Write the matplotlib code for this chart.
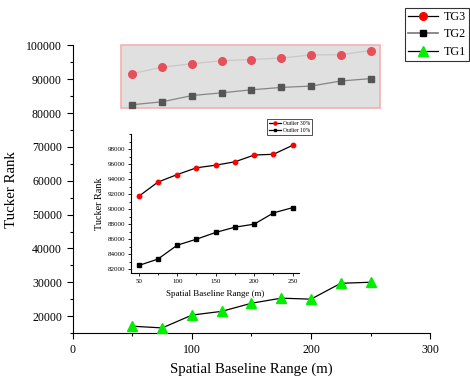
import matplotlib
matplotlib.use("Agg")
import matplotlib.pyplot as plt
from matplotlib.lines import Line2D
from matplotlib.patches import Rectangle
from matplotlib.ticker import MultipleLocator

plt.rcParams['font.family'] = ['Liberation Serif', 'DejaVu Serif']

x = [50, 75, 100, 125, 150, 175, 200, 225, 250]
tg3 = [91700, 93600, 94600, 95500, 95850, 96300, 97200, 97300, 98500]
tg2 = [82500, 83350, 85200, 86000, 86900, 87600, 88000, 89500, 90200]
tg1 = [17000, 16500, 20300, 21400, 23800, 25300, 25000, 29700, 30000]

main_xlim = (0, 300)
main_ylim = (15000, 100000)
zoom_xlim = (40, 258)
zoom_ylim = (81500, 100000)

fig = plt.figure(figsize=(4.7, 3.8), dpi=100)
ax = fig.add_axes([0.1553, 0.1237, 0.7596, 0.7566])
ax.set_xlim(*main_xlim)
ax.set_ylim(*main_ylim)
for s in ['top', 'right']:
    ax.spines[s].set_visible(False)
ax.xaxis.set_major_locator(MultipleLocator(100))
ax.xaxis.set_minor_locator(MultipleLocator(50))
ax.yaxis.set_minor_locator(MultipleLocator(5000))
ax.set_yticks([20000, 30000, 40000, 50000, 60000, 70000, 80000, 90000, 100000])
ax.tick_params(which='both', direction='out', labelsize=8.5, width=0.8)
ax.tick_params(which='major', length=4.5)
ax.tick_params(which='minor', length=2.5)
ax.set_xlabel('Spatial Baseline Range (m)', fontsize=10.7, labelpad=4.5)
ax.set_ylabel('Tucker Rank', fontsize=10.7, labelpad=6)

# zoom region box
ax.add_patch(Rectangle((zoom_xlim[0], zoom_ylim[0]), zoom_xlim[1] - zoom_xlim[0],
                       zoom_ylim[1] - zoom_ylim[0], facecolor='#e0e0e0',
                       edgecolor='#f5b0b0', linewidth=1.2, zorder=1, clip_on=False))
ax.plot(x, tg3, color='#c8c8c8', lw=0.9, marker='o', ms=5.5, mfc='#e5505a',
        mec='#e5505a', zorder=3, clip_on=False)
ax.plot(x, tg2, color='#858585', lw=0.9, marker='s', ms=5, mfc='#555555',
        mec='#555555', zorder=3, clip_on=False)
ax.plot(x, tg1, color='black', lw=0.9, marker='^', ms=7, mfc='#00ee00',
        mec='#00ee00', zorder=3, clip_on=False)

handles = [
    Line2D([], [], color='black', lw=0.9, marker='o', ms=5.5, mfc='red', mec='red'),
    Line2D([], [], color='#777777', lw=1.2, marker='s', ms=5, mfc='black', mec='black'),
    Line2D([], [], color='black', lw=0.9, marker='^', ms=6.5, mfc='#00ee00', mec='#00ee00'),
]
leg0 = fig.legend(handles, ['TG3', 'TG2', 'TG1'], loc='upper left',
                  bbox_to_anchor=(0.861, 0.979), fontsize=8.7, frameon=True, fancybox=False,
                  edgecolor='black', handlelength=2.5, borderpad=0.25, labelspacing=0.45,
                  handletextpad=0.5, borderaxespad=0)
leg0.get_frame().set_linewidth(0.8)

# inset
ins = fig.add_axes([0.2787, 0.2816, 0.3573, 0.3658])
ins.set_xlim(*zoom_xlim)
ins.set_ylim(*zoom_ylim)
for s in ['top', 'right']:
    ins.spines[s].set_visible(False)
ins.xaxis.set_major_locator(MultipleLocator(50))
ins.xaxis.set_minor_locator(MultipleLocator(25))
ins.set_yticks(list(range(82000, 100000, 2000)))
ins.yaxis.set_minor_locator(MultipleLocator(1000))
ins.tick_params(which='both', direction='out', labelsize=5, width=0.6, pad=1.5)
ins.tick_params(which='major', length=2.5)
ins.tick_params(which='minor', length=1.5)
ins.set_xlabel('Spatial Baseline Range (m)', fontsize=6.5, labelpad=5)
ins.set_ylabel('Tucker Rank', fontsize=7.3, labelpad=3)
ins.plot(x, tg3, color='black', lw=0.9, marker='o', ms=3.2, mfc='red', mec='red',
         label='Outlier 30%', clip_on=False)
ins.plot(x, tg2, color='black', lw=0.9, marker='s', ms=3, mfc='black', mec='black',
         label='Outlier 10%', clip_on=False)
leg = ins.legend(loc='upper left', bbox_to_anchor=(0.81, 1.11), fontsize=4,
                 frameon=True, fancybox=False, edgecolor='black', handlelength=2.2,
                 borderpad=0.35, labelspacing=0.4, handletextpad=0.3, borderaxespad=0,
                 markerscale=0.7)
leg.get_frame().set_linewidth(0.6)

fig.savefig('out.png', dpi=100)
